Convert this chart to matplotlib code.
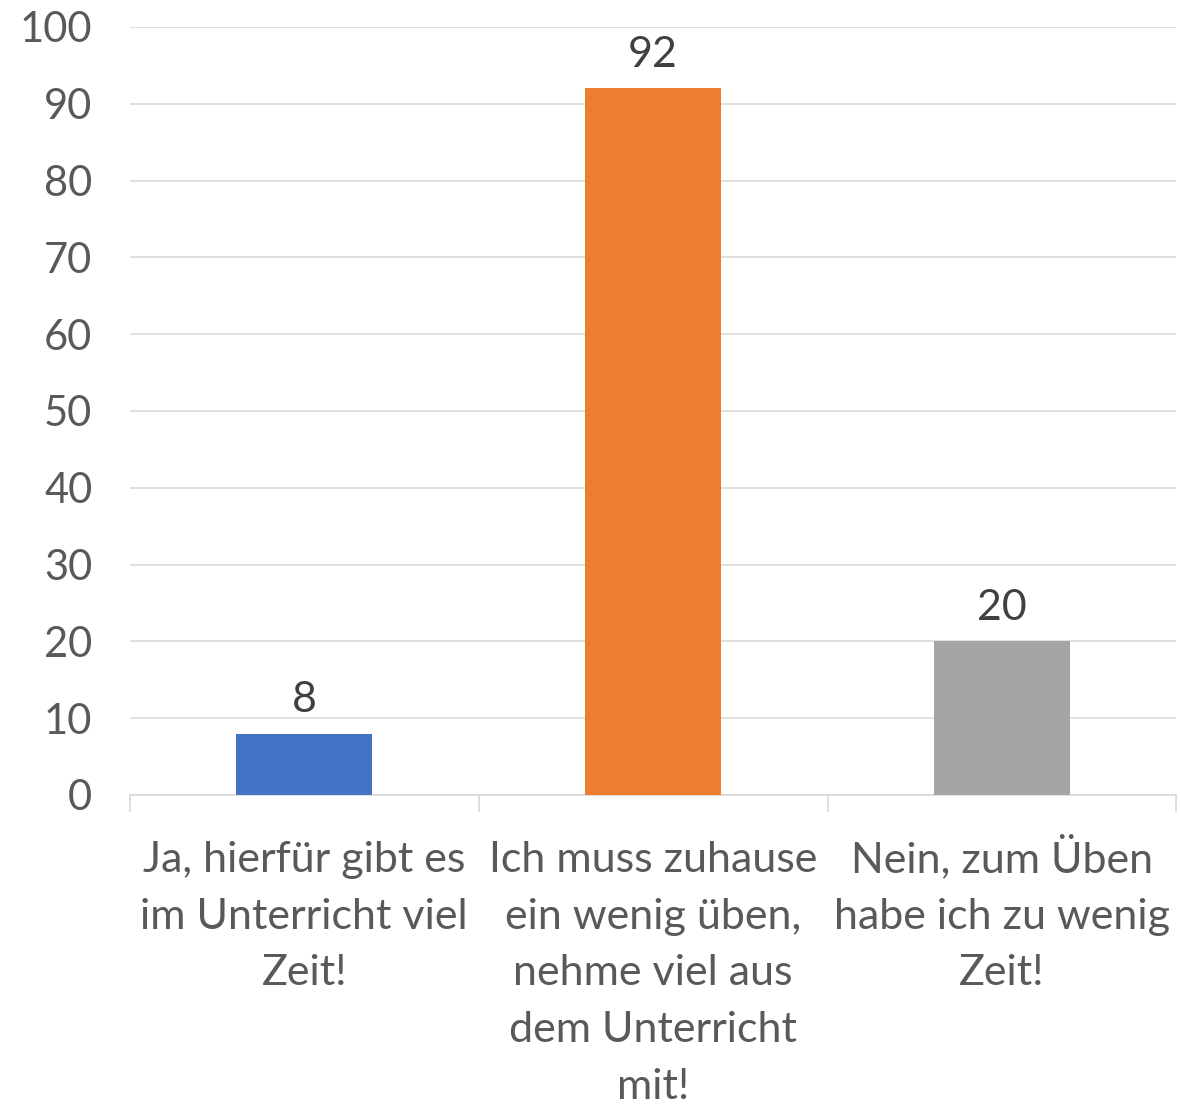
import numpy as np
import matplotlib.pyplot as plt
import matplotlib.transforms as mtransforms

# Daten
categories = ["Ja, hierfür gibt es\nim Unterricht viel\nZeit!",
              "Ich muss zuhause\nein wenig üben,\nnehme viel aus\ndem Unterricht\nmit!",
              "Nein, zum Üben\nhabe ich zu wenig\nZeit!"]
values = [8, 92, 20]
colors = ["#4472C4", "#ED7D31", "#A5A5A5"]
yticks = [0, 10, 20, 30, 40, 50, 60, 70, 80, 90, 100]

plt.rcParams['font.family'] = ['Lato', 'DejaVu Sans']

fig = plt.figure(figsize=(11.8, 11.04), dpi=100)
ax = fig.add_axes([0.110, 0.2799, 0.887, 0.6957])

x = np.arange(len(values))
ax.bar(x, values, width=0.39, color=colors, zorder=3)
for xi, v in zip(x, values):
    ax.text(xi, v + 1.9, str(v), ha='center', va='bottom', fontsize=31, color='#404040')

ax.set_xlim(-0.5, 2.5)
ax.set_ylim(0, 100)
ax.set_yticks(yticks)
ax.set_yticklabels([str(t) for t in yticks], fontsize=30, color='#595959')
ax.yaxis.grid(True, color='#D9D9D9', linewidth=1.2, zorder=0)
ax.tick_params(axis='y', length=0, pad=27)

# Kategorienbeschriftung zeilenweise (gleiche Grundlinie)
ax.set_xticks(x)
ax.set_xticklabels([])
ax.tick_params(axis='x', length=0)
for xi, lab in zip(x, categories):
    for i, line in enumerate(lab.split('\n')):
        off = mtransforms.ScaledTranslation(0, -(77 + i * 56.7) / 100, fig.dpi_scale_trans)
        ax.text(xi, 0, line, ha='center', va='baseline', fontsize=31, color='#595959',
                transform=ax.transData + off, clip_on=False)

# Trennstriche zwischen Kategorien
ax.set_xticks([-0.5, 0.5, 1.5, 2.5], minor=True)
ax.tick_params(axis='x', which='minor', length=12, color='#D9D9D9', width=1.2)

for s in ['top', 'right', 'left']:
    ax.spines[s].set_visible(False)
ax.spines['bottom'].set_color('#D9D9D9')
ax.spines['bottom'].set_linewidth(1.2)

fig.savefig('out.png', dpi=100)
